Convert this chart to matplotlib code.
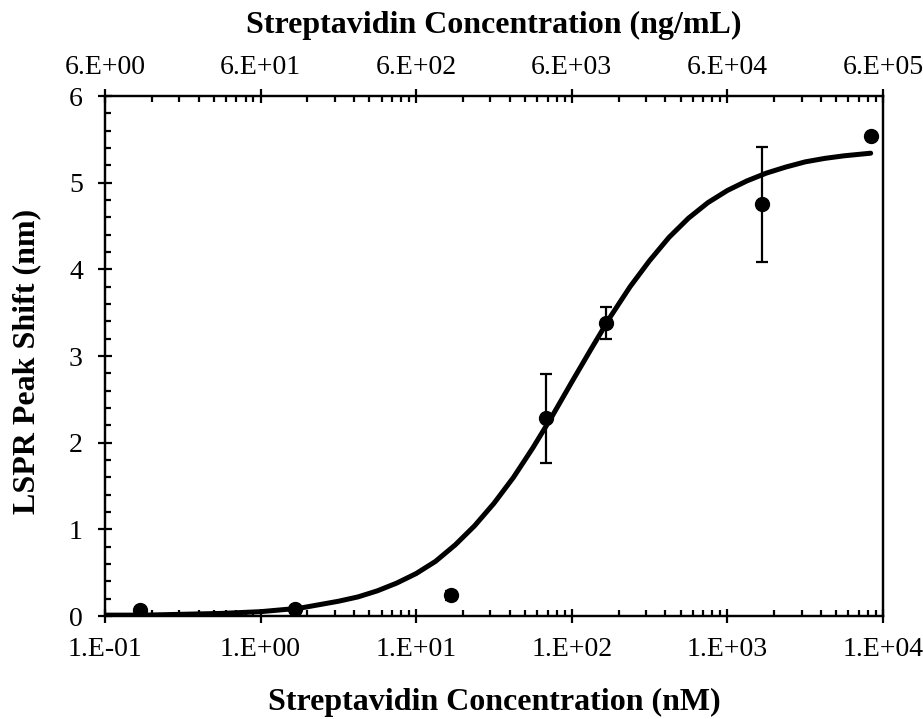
import numpy as np
import matplotlib
matplotlib.use('Agg')
import matplotlib.pyplot as plt
from matplotlib.ticker import FixedLocator, NullFormatter, MultipleLocator

plt.rcParams['font.family'] = ['Liberation Serif', 'DejaVu Serif']

# measured points (nM, nm shift, std)
conc_nM = [0.167, 1.67, 16.7, 68.0, 167.0, 1667.0, 8333.0]
shift = [0.07, 0.08, 0.24, 2.28, 3.38, 4.75, 5.54]
shift_err = [0.0, 0.0, 0.05, 0.51, 0.18, 0.66, 0.0]

# fitted curve
fit_x = [0.1, 0.178, 0.316, 0.562, 1.0, 1.78, 3.16, 4.22, 5.62, 7.50, 10.0,
         13.3, 17.8, 23.7, 31.6, 42.2, 56.2, 75.0, 100.0, 133.0, 178.0, 237.0,
         316.0, 422.0, 562.0, 750.0, 1000.0, 1334.0, 1778.0, 2371.0, 3162.0,
         4217.0, 5623.0, 8333.0]
fit_y = [0.01, 0.01, 0.02, 0.03, 0.05, 0.09, 0.17, 0.22, 0.29, 0.38, 0.49,
         0.63, 0.82, 1.04, 1.30, 1.60, 1.94, 2.31, 2.70, 3.08, 3.46, 3.80,
         4.10, 4.37, 4.59, 4.77, 4.91, 5.02, 5.11, 5.18, 5.24,
         5.28, 5.31, 5.34]

bottom_ticks = [1e-1, 1e0, 1e1, 1e2, 1e3, 1e4]
bottom_labels = ['1.E-01', '1.E+00', '1.E+01', '1.E+02', '1.E+03', '1.E+04']
top_ticks = [6e0, 6e1, 6e2, 6e3, 6e4, 6e5]
top_labels = ['6.E+00', '6.E+01', '6.E+02', '6.E+03', '6.E+04', '6.E+05']

fig = plt.figure(figsize=(9.23, 7.19), dpi=100)
ax = fig.add_axes([105 / 923, 1 - 616 / 719, 778 / 923, 520 / 719])

ax.plot(fit_x, fit_y, color='black', lw=3.6, solid_capstyle='round', zorder=2)
ax.plot(conc_nM, shift, 'o', color='black', ms=10, zorder=3)
ex = [c for c, e in zip(conc_nM, shift_err) if e > 0]
ey = [s for s, e in zip(shift, shift_err) if e > 0]
ee = [e for e in shift_err if e > 0]
ax.errorbar(ex, ey, yerr=ee, fmt='none', ecolor='black', elinewidth=1.6,
            capsize=4.5, capthick=1.6, zorder=3)

ax.set_xscale('log')
ax.set_xlim(1e-1, 1e4)
ax.set_ylim(0, 6)
ax.xaxis.set_major_locator(FixedLocator(bottom_ticks))
ax.set_xticklabels(bottom_labels)
minors = [k * 10.0 ** e for e in range(-1, 4) for k in range(2, 10)]
ax.xaxis.set_minor_locator(FixedLocator(minors))
ax.xaxis.set_minor_formatter(NullFormatter())
ax.yaxis.set_major_locator(MultipleLocator(1))
ax.yaxis.set_minor_locator(MultipleLocator(0.2))

for s in ax.spines.values():
    s.set_linewidth(1.6)

ax.tick_params(axis='both', which='major', direction='inout', length=10, width=1.6,
               labelsize=20)
ax.tick_params(axis='x', which='major', pad=10)
ax.tick_params(axis='y', which='major', pad=11)
ax.tick_params(axis='both', which='minor', direction='in', length=4.5, width=1.6)
ax.tick_params(axis='y', which='both', right=False)

# top axis in ng/mL
top = ax.twiny()
top.set_xscale('log')
top.set_xlim(6e0, 6e5)
top.xaxis.set_major_locator(FixedLocator(top_ticks))
top.set_xticklabels(top_labels)
top.xaxis.set_minor_locator(FixedLocator([m * 60 for m in minors]))
top.xaxis.set_minor_formatter(NullFormatter())
top.tick_params(axis='x', which='major', direction='inout', length=10, width=1.6,
                labelsize=20, pad=6.5)
top.tick_params(axis='x', which='minor', direction='in', length=4.5, width=1.6)
for s in top.spines.values():
    s.set_linewidth(1.6)

ax.set_xlabel('Streptavidin Concentration (nM)', fontsize=23, fontweight='bold', labelpad=19)
ax.set_ylabel('LSPR Peak Shift (nm)', fontsize=23, fontweight='bold', labelpad=20)
ax.yaxis.label.set_y(0.49)
top.set_xlabel('Streptavidin Concentration (ng/mL)', fontsize=23, fontweight='bold', labelpad=16)

plt.savefig('out.png', dpi=100)
